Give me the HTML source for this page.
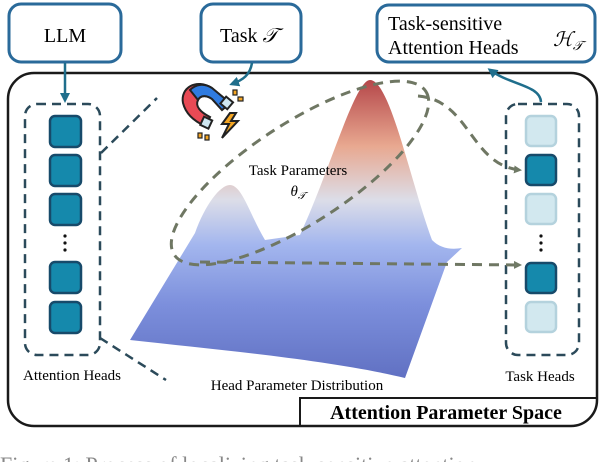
<!DOCTYPE html>
<html><head><meta charset="utf-8"><style>
html,body{margin:0;padding:0;background:#fff;}
svg{display:block;}
text{font-family:"Liberation Serif","DejaVu Serif","Times New Roman",serif;}
</style></head><body>
<svg width="600" height="462" viewBox="0 0 600 462" xmlns="http://www.w3.org/2000/svg" font-family="Liberation Serif, DejaVu Serif, serif">
<defs>
<linearGradient id="g" x1="0" y1="80" x2="0" y2="380" gradientUnits="userSpaceOnUse">
<stop offset="0" stop-color="#b5474a"/>
<stop offset="0.22" stop-color="#e8a890"/>
<stop offset="0.4" stop-color="#dcdde8"/>
<stop offset="0.55" stop-color="#a3b6ee"/>
<stop offset="0.75" stop-color="#7c8fdc"/>
<stop offset="1" stop-color="#6070c2"/>
</linearGradient>
<marker id="ah" markerWidth="8" markerHeight="8" refX="6" refY="4" orient="auto" markerUnits="userSpaceOnUse"><path d="M0,0 L8,4 L0,8 Z" fill="#707a66"/></marker>
<marker id="bh" markerWidth="10" markerHeight="10" refX="7" refY="5" orient="auto" markerUnits="userSpaceOnUse"><path d="M0,0 L10,5 L0,10 Z" fill="#1f6e8c"/></marker>
</defs>
<rect x="9" y="4" width="112" height="58" rx="12" fill="#fff" stroke="#2a6a9a" stroke-width="3"/>
<text x="65" y="42" font-size="20" text-anchor="middle">LLM</text>
<rect x="201" y="4" width="100" height="58" rx="12" fill="#fff" stroke="#2a6a9a" stroke-width="3"/>
<text x="220" y="42" font-size="20">Task <tspan font-style="italic">𝒯</tspan></text>
<rect x="377" y="5" width="218" height="57" rx="12" fill="#fff" stroke="#2a6a9a" stroke-width="3"/>
<text x="388" y="30" font-size="20">Task-sensitive</text>
<text x="388" y="54" font-size="20">Attention Heads</text>
<text x="553" y="46" font-size="20" font-style="italic">ℋ<tspan font-size="13" dy="4">𝒯</tspan></text>
<rect x="8" y="73" width="589" height="353" rx="26" fill="none" stroke="#1a1a1a" stroke-width="2.5"/>
<path d="M300,426 L300,398 L597,398" fill="none" stroke="#1a1a1a" stroke-width="2"/>
<text x="446" y="419" font-size="20" font-weight="bold" text-anchor="middle">Attention Parameter Space</text>
<path d="M130,340 L195,233 C205,205 220,185 230,185 C242,185 250,215 265,240 L300,235 C330,170 355,80 370,80 C390,80 410,180 432,240 C440,248 450,250 462,248 L447,262 L405,378 C330,360 220,350 130,340 Z" fill="url(#g)"/>
<rect x="25" y="104" width="75" height="251" rx="12" fill="none" stroke="#2b4a5a" stroke-width="2.5" stroke-dasharray="9,6"/>
<g fill="#1589ac" stroke="#174a6a" stroke-width="2.5">
<rect x="50" y="116" width="31" height="31" rx="5"/><rect x="50" y="155" width="31" height="31" rx="5"/><rect x="50" y="194" width="31" height="31" rx="5"/>
<rect x="50" y="262" width="31" height="31" rx="5"/><rect x="50" y="302" width="31" height="31" rx="5"/>
</g>
<g fill="#111"><circle cx="65" cy="236" r="1.6"/><circle cx="65" cy="243" r="1.6"/><circle cx="65" cy="250" r="1.6"/></g>
<rect x="506" y="104" width="73" height="251" rx="12" fill="none" stroke="#2b4a5a" stroke-width="2.5" stroke-dasharray="9,6"/>
<g stroke-width="2.5">
<rect x="526" y="116" width="30" height="30" rx="5" fill="#d2e8ef" stroke="#b4d2dd"/>
<rect x="526" y="155" width="30" height="30" rx="5" fill="#1589ac" stroke="#174a6a"/>
<rect x="526" y="194" width="30" height="30" rx="5" fill="#d2e8ef" stroke="#b4d2dd"/>
<rect x="526" y="263" width="30" height="30" rx="5" fill="#1589ac" stroke="#174a6a"/>
<rect x="526" y="302" width="30" height="30" rx="5" fill="#d2e8ef" stroke="#b4d2dd"/>
</g>
<g fill="#111"><circle cx="541" cy="236" r="1.6"/><circle cx="541" cy="243" r="1.6"/><circle cx="541" cy="250" r="1.6"/></g>
<line x1="101" y1="153" x2="157" y2="98" stroke="#2b4a5a" stroke-width="2.5" stroke-dasharray="9,6"/>
<line x1="100" y1="338" x2="166" y2="380" stroke="#2b4a5a" stroke-width="2.5" stroke-dasharray="9,6"/>
<ellipse cx="300" cy="173" rx="150" ry="50" transform="rotate(-33 300 173)" fill="none" stroke="#6f7763" stroke-width="3" stroke-dasharray="10,7"/>
<path d="M418,96 C470,100 470,165 520,170" fill="none" stroke="#6f7763" stroke-width="3" stroke-dasharray="10,7" marker-end="url(#ah)"/>
<path d="M200,262 L520,265" fill="none" stroke="#6f7763" stroke-width="3" stroke-dasharray="10,7" marker-end="url(#ah)"/>
<line x1="65" y1="63" x2="65" y2="100" stroke="#1f6e8c" stroke-width="2.5" marker-end="url(#bh)"/>
<path d="M252,63 C250,75 243,80 232,84" fill="none" stroke="#1f6e8c" stroke-width="2.5" marker-end="url(#bh)"/>
<path d="M541,102 C540,85 510,85 490,70" fill="none" stroke="#1f6e8c" stroke-width="2.5" marker-end="url(#bh)"/>
<g stroke="#222" stroke-width="2">
<path d="M230,103 L212,88 C196,78 180,88 183,103 C186,115 196,122 205,126 L210,117 C200,112 195,106 198,100 C201,94 208,96 212,99 L222,110 Z" fill="#e84a55"/>
<path d="M230,103 L212,88 C204,83 196,84 190,90 L198,100 C201,94 208,96 212,99 L222,110 Z" fill="#2f7be0"/>
<rect x="222" y="98" width="9" height="9" fill="#cfe6f0" transform="rotate(40 226 103)"/>
<rect x="202" y="118" width="9" height="9" fill="#cfe6f0" transform="rotate(25 206 122)"/>
<path d="M230,113 L222,124 L229,124 L222,138 L238,121 L231,121 L236,113 Z" fill="#f5a623"/>
</g>
<g fill="#f5a623" stroke="#222" stroke-width="1.2"><rect x="233" y="90" width="4" height="5"/><rect x="238" y="97" width="5" height="4"/><rect x="198" y="133" width="4" height="5"/><rect x="205" y="135" width="4" height="5"/></g>
<text x="298" y="175" font-size="15" text-anchor="middle">Task Parameters</text>
<text x="298" y="196" font-size="15" text-anchor="middle" font-style="italic">θ<tspan font-size="10" dy="3">𝒯</tspan></text>
<text x="72" y="380" font-size="15" text-anchor="middle">Attention Heads</text>
<text x="297" y="390" font-size="15" text-anchor="middle">Head Parameter Distribution</text>
<text x="540" y="381" font-size="15" text-anchor="middle">Task Heads</text>
<text x="0" y="472" font-size="22" fill="#888">Figure 1: Process of localizing task-sensitive attention</text>
</svg>
</body></html>
